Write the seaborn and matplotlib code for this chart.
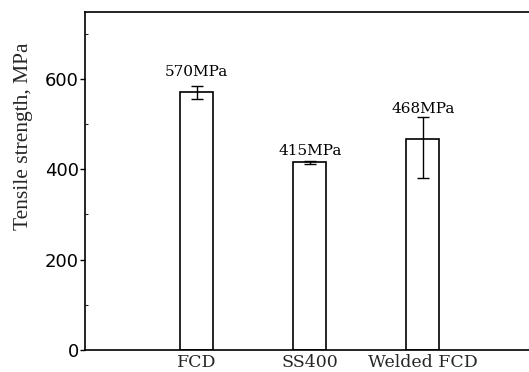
import matplotlib
matplotlib.use("Agg")
import matplotlib.pyplot as plt
import seaborn as sns
import numpy as np
import pandas as pd
from matplotlib.ticker import MultipleLocator

# ---- data ----
categories = ["FCD", "SS400", "Welded FCD"]
strength = [570, 415, 468]
err_lower = [14, 4, 88]
err_upper = [14, 4, 48]
value_labels = ["570MPa", "415MPa", "468MPa"]
label_y = [607, 432, 524]

sns.set_style("ticks")
plt.rcParams["font.family"] = ["DejaVu Sans"]

fig = plt.figure(figsize=(5.29, 3.72), dpi=100)
ax = fig.add_axes([85 / 529, 22 / 372, 444 / 529, 338 / 372])

df = pd.DataFrame({"cat": categories, "val": strength})
sns.barplot(data=df, x="cat", y="val", ax=ax, width=0.29,
            facecolor="white", edgecolor="black", linewidth=1.2,
            errorbar=None)

xpos = np.arange(len(categories))
ax.errorbar(xpos, strength, yerr=[err_lower, err_upper], fmt="none",
            ecolor="black", elinewidth=1.0, capsize=4, capthick=1.0)

for x, y, t in zip(xpos, label_y, value_labels):
    ax.text(x, y, t, ha="center", va="baseline", fontsize=11,
            family="DejaVu Serif", color="black")

ax.set_xlim(-0.99, 2.94)
ax.set_ylim(0, 748)
ax.yaxis.set_major_locator(MultipleLocator(200))
ax.yaxis.set_minor_locator(MultipleLocator(100))
ax.tick_params(axis="y", which="major", direction="out", length=3.6,
               width=1.0, pad=0.8, labelsize=13, colors="black")
ax.tick_params(axis="y", which="minor", direction="in", length=2.2, width=0.8)
ax.tick_params(axis="x", length=0, pad=3.0)
for lab in ax.get_xticklabels():
    lab.set_fontfamily("DejaVu Serif")
    lab.set_fontsize(12.5)

ax.set_xlabel("")
ax.set_ylabel("Tensile strength, MPa", fontsize=15.5, family="Liberation Serif")
ax.yaxis.set_label_coords(-0.117, 0.632)

for s in ["left", "top", "bottom"]:
    ax.spines[s].set_visible(True)
    ax.spines[s].set_color("black")
    ax.spines[s].set_linewidth(1.2)
ax.spines["right"].set_visible(False)

fig.savefig("out.png", dpi=100)
